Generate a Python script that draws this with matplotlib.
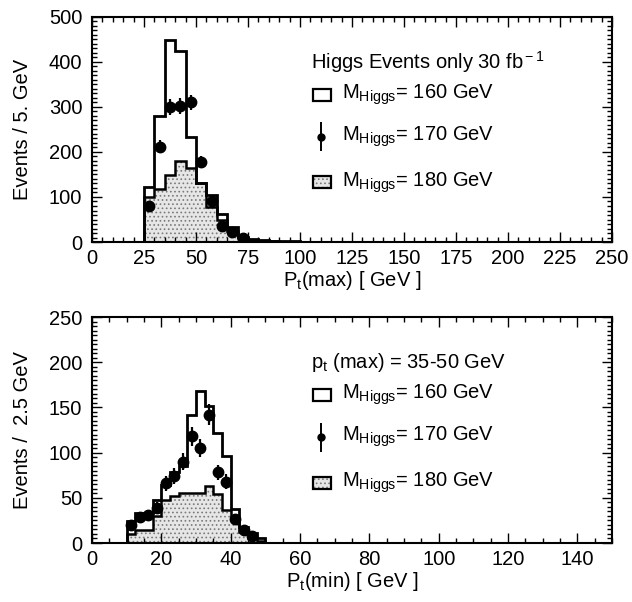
import numpy as np
import matplotlib
matplotlib.use("Agg")
from matplotlib import pyplot as plt
from matplotlib.patches import Rectangle
from matplotlib.ticker import MultipleLocator

plt.rcParams['font.family'] = ['Liberation Sans', 'DejaVu Sans']
plt.rcParams['mathtext.fontset'] = 'custom'
plt.rcParams['mathtext.rm'] = 'Liberation Sans'
plt.rcParams['mathtext.it'] = 'Liberation Sans'
plt.rcParams['hatch.linewidth'] = 0.7

# Top panel: Pt(max), 5 GeV bins from 25 GeV
edges_max = np.arange(25, 111, 5)
h160_max = [123, 280, 448, 425, 233, 130, 105, 62, 34, 12, 6, 4, 3, 2, 2, 1, 1]
h180_max = [100, 117, 149, 181, 165, 132, 78, 50, 25, 10, 5, 3, 2, 1, 1, 1, 0]
pts_max_x = [27.5, 32.5, 37.5, 42.5, 47.5, 52.5, 57.5, 62.5, 67.5, 72.5]
pts_max_y = [80, 212, 300, 302, 310, 178, 90, 36, 22, 8]

# Bottom panel: Pt(min), 2.5 GeV bins from 10 GeV
edges_min = np.arange(10, 50.1, 2.5)
h160_min = [24, 33, 33, 48, 64, 78, 85, 142, 168, 152, 122, 96, 38, 18, 11, 5]
h180_min = [10, 14, 14, 30, 48, 52, 55, 55, 55, 63, 54, 36, 25, 12, 5, 2]
pts_min_x = [11.25, 13.75, 16.25, 18.75, 21.25, 23.75, 26.25, 28.75,
             31.25, 33.75, 36.25, 38.75, 41.25, 43.75, 46.25]
pts_min_y = [20, 29, 31, 39, 66, 74, 90, 118, 105, 142, 78, 68, 27, 14, 8]

legend_labels = [r'M$_{\rm Higgs}$= 160 GeV', r'M$_{\rm Higgs}$= 170 GeV',
                 r'M$_{\rm Higgs}$= 180 GeV']

FS = 14.5
shade_face = '#e6e6e6'
shade_hatch = '#7a7a7a'


def draw_panel(ax, edges, h160, h180, px, py, xlim, ylim, xmaj, xmin,
               ymaj, ymin, xlabel, ylabel, title):
    # shaded 180 GeV histogram
    ax.stairs(h180, edges, fill=True, facecolor=shade_face,
              edgecolor=shade_hatch, hatch='....', lw=0)
    ax.stairs(h180, edges, color='black', lw=1.8, baseline=0)
    # open 160 GeV histogram
    ax.stairs(h160, edges, color='black', lw=2.0, baseline=0)
    # 170 GeV points
    ax.errorbar(px, py, yerr=np.sqrt(py), fmt='o', color='black', ms=7.5,
                elinewidth=1.6, capsize=0)

    ax.set_xlim(*xlim)
    ax.set_ylim(*ylim)
    ax.xaxis.set_major_locator(MultipleLocator(xmaj))
    ax.xaxis.set_minor_locator(MultipleLocator(xmin))
    ax.yaxis.set_major_locator(MultipleLocator(ymaj))
    ax.yaxis.set_minor_locator(MultipleLocator(ymin))
    ax.tick_params(which='both', direction='in', top=True, right=True,
                   labelsize=FS, width=1.0)
    ax.tick_params(which='major', length=7)
    ax.tick_params(axis='y', which='major', pad=7)
    ax.tick_params(axis='x', which='major', pad=5)
    ax.tick_params(which='minor', length=3.5)
    for s in ax.spines.values():
        s.set_linewidth(1.5)
    ax.set_xlabel(xlabel, fontsize=FS, labelpad=1)
    ax.set_ylabel(ylabel, fontsize=FS, labelpad=12)

    # legend drawn by hand
    tr = ax.transAxes
    ax.text(0.421, 0.80, title, transform=tr, fontsize=FS, va='center')
    rows = [0.655, 0.468, 0.265]
    ax.add_patch(Rectangle((0.424, rows[0] - 0.027), 0.035, 0.054,
                           transform=tr, facecolor='white',
                           edgecolor='black', lw=1.6))
    ax.errorbar([0.441], [rows[1]], yerr=[0.065], fmt='o', color='black',
                ms=5, elinewidth=1.4, capsize=0, transform=tr)
    ax.add_patch(Rectangle((0.424, rows[2] - 0.027), 0.035, 0.054,
                           transform=tr, facecolor=shade_face,
                           edgecolor=shade_hatch, hatch='....', lw=0))
    ax.add_patch(Rectangle((0.424, rows[2] - 0.027), 0.035, 0.054,
                           transform=tr, facecolor='none',
                           edgecolor='black', lw=1.6))
    for r, lab in zip(rows, legend_labels):
        ax.text(0.481, r, lab, transform=tr, fontsize=FS, va='center')


fig = plt.figure(figsize=(6.32, 6.02), dpi=100)
ax1 = fig.add_axes([0.1456, 0.598, 0.8228, 0.3738])
ax2 = fig.add_axes([0.1456, 0.098, 0.8228, 0.3754])

draw_panel(ax1, edges_max, h160_max, h180_max, pts_max_x, pts_max_y,
           (0, 250), (0, 500), 25, 5, 100, 10,
           r'P$_{\rm t}$(max) [ GeV ]', 'Events / 5. GeV',
           r'Higgs Events only 30 fb$^{\rm -1}$')
draw_panel(ax2, edges_min, h160_min, h180_min, pts_min_x, pts_min_y,
           (0, 150), (0, 250), 20, 5, 50, 5,
           r'P$_{\rm t}$(min) [ GeV ]', 'Events /  2.5 GeV',
           r'p$_{\rm t}$ (max) = 35-50 GeV')

fig.savefig('out.png', dpi=100)
